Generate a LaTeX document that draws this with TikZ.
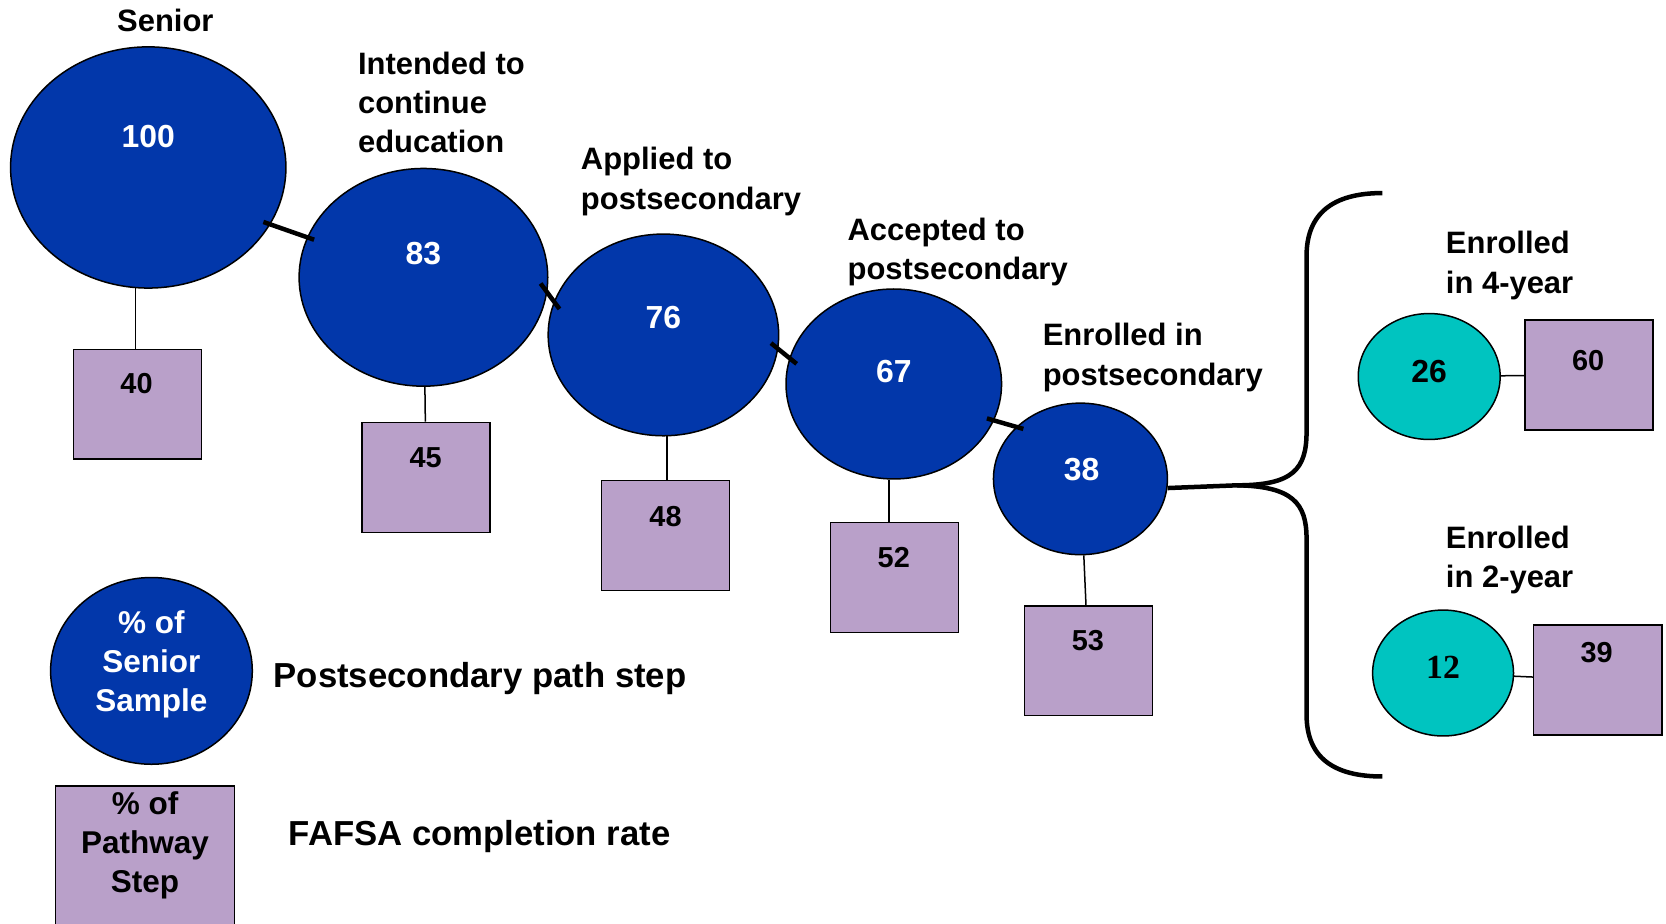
\documentclass[tikz,border=0pt]{standalone}
\usepackage{fontspec}
\setmainfont{Liberation Sans}
\newfontfamily\serifnum{Liberation Serif}
\usepackage{tikz}
\usetikzlibrary{shapes.geometric}
\definecolor{pathblue}{RGB}{2,55,170}
\definecolor{fafsalilac}{RGB}{185,160,201}
\definecolor{enrollteal}{RGB}{0,196,192}

\begin{document}
\begin{tikzpicture}[x=0.01cm,y=-0.01cm,
    pathstep/.style={ellipse,draw=black,fill=pathblue,inner sep=0pt},
    enrollstep/.style={ellipse,draw=black,fill=enrollteal,inner sep=0pt},
    fafsabox/.style={rectangle,draw=black,fill=fafsalilac,inner sep=0pt,minimum width=1.2cm,minimum height=1.03cm},
    stepnum/.style={inner sep=0pt,text=white,font=\bfseries\fontsize{8.5}{10}\selectfont},
    boxnum/.style={inner sep=0pt,font=\bfseries\fontsize{7.7}{9}\selectfont},
    steplabel/.style={anchor=west,align=left,inner sep=0pt,font=\bfseries\fontsize{8.25}{10.5}\selectfont},
    legendtext/.style={anchor=west,inner sep=0pt,font=\bfseries\fontsize{9.25}{11}\selectfont},
    link/.style={line width=1.2pt,shorten <=-2pt,shorten >=-2pt},
    brace/.style={line width=1.2pt}]
  \useasboundingbox (0,0) rectangle (1562,866);

  \node[pathstep,minimum width=2.58cm,minimum height=2.26cm] (s100) at (139,157) {};
  \node[pathstep,minimum width=2.33cm,minimum height=2.04cm] (s83) at (397,260) {};
  \node[pathstep,minimum width=2.16cm,minimum height=1.89cm] (s76) at (622,314) {};
  \node[pathstep,minimum width=2.02cm,minimum height=1.78cm] (s67) at (838,360) {};
  \node[pathstep,minimum width=1.63cm,minimum height=1.42cm] (s38) at (1013,449) {};

  \node[stepnum] (n100) at (139,128) {100};
  \node[stepnum] (n83) at (397,238) {83};
  \node[stepnum] (n76) at (622,298) {76};
  \node[stepnum] (n67) at (838,348) {67};
  \node[stepnum] (n38) at (1014,440) {38};

  \node[fafsabox] (f40) at (129,379) {};
  \node[fafsabox] (f45) at (399.5,447.5) {};
  \node[fafsabox] (f48) at (624,502) {};
  \node[fafsabox] (f52) at (838.5,541.5) {};
  \node[fafsabox] (f53) at (1020.5,619.5) {};
  \node[boxnum] (t40) at (128,360) {40};
  \node[boxnum] (t45) at (399,429) {45};
  \node[boxnum] (t48) at (624,484) {48};
  \node[boxnum] (t52) at (838,523) {52};
  \node[boxnum] (t53) at (1020,601) {53};

  \draw (s100.-96) -- (s100.-96 |- f40.north);
  \draw (s83) -- (f45);
  \draw (s76.-88) -- (s76.-88 |- f48.north);
  \draw (s67.-93) -- (s67.-93 |- f52.north);
  \draw (s38) -- (f53);

  \draw[link] (s100.-25) -- (s83.161);
  \draw[link,shorten <=-3pt,shorten >=-2.5pt] (s83.-7) -- (s76.163);
  \draw[link,shorten <=-2.5pt,shorten >=-2.5pt] (s76.-7) -- (s67.166);
  \draw[link] (s67.-20) -- (s38.141);

  \node[steplabel,anchor=center] (lsenior) at (155,19) {Senior};
  \node[steplabel] (lintend) at (335,96) {Intended to\\continue\\education};
  \node[steplabel] (lapplied) at (544,170) {Applied to\\postsecondary};
  \node[steplabel] (laccepted) at (794,236) {Accepted to\\postsecondary};
  \node[steplabel] (lenrolled) at (977,335) {Enrolled in\\postsecondary};

  % split into 4-year and 2-year
  \coordinate (fork) at (1160,455);
  \coordinate (bracetop) at (1296,181);
  \coordinate (bracebot) at (1296,728);
  \draw[brace] (s38.-6) -- (fork);
  \draw[brace] (fork) .. controls (1212,455) and (1225,440) .. (1225,405) -- (1225,240)
    .. controls (1225,200) and (1250,181) .. (bracetop);
  \draw[brace] (fork) .. controls (1212,456) and (1225,472) .. (1225,505) -- (1225,670)
    .. controls (1225,710) and (1250,728) .. (bracebot);

  \node[enrollstep,minimum width=1.33cm,minimum height=1.18cm] (s26) at (1340,353) {};
  \node[enrollstep,minimum width=1.32cm,minimum height=1.18cm] (s12) at (1353,631) {};
  \node[stepnum,text=black] (n26) at (1340,348) {26};
  \node[stepnum,text=black,font=\serifnum\bfseries\fontsize{9}{10}\selectfont] (n12) at (1353,626) {12};
  \node[fafsabox] (f60) at (1490,351.5) {};
  \node[fafsabox] (f39) at (1498,637.5) {};
  \node[boxnum] (t60) at (1489,338) {60};
  \node[boxnum] (t39) at (1497,612) {39};
  \draw (s26) -- (f60);
  \draw (s12) -- (f39);
  \node[steplabel] (lfour) at (1355,249) {Enrolled\\in 4-year};
  \node[steplabel] (ltwo) at (1355,525) {Enrolled\\in 2-year};

  % legend
  \node[pathstep,minimum width=1.89cm,minimum height=1.75cm] (keystep) at (142,629) {};
  \node[stepnum,align=center,font=\bfseries\fontsize{8.4}{10.4}\selectfont] (keysteptext) at (142,623) {\% of\\Senior\\Sample};
  \node[legendtext] (keysteplabel) at (256,636) {Postsecondary path step};
  \node[fafsabox,minimum width=1.68cm,minimum height=1.63cm] (keybox) at (136,818.5) {};
  \node[boxnum,align=center,font=\bfseries\fontsize{8.4}{10.4}\selectfont] (keyboxtext) at (136,793) {\% of\\Pathway\\Step};
  \node[legendtext] (keyboxlabel) at (270,784) {FAFSA completion rate};
\end{tikzpicture}
\end{document}
